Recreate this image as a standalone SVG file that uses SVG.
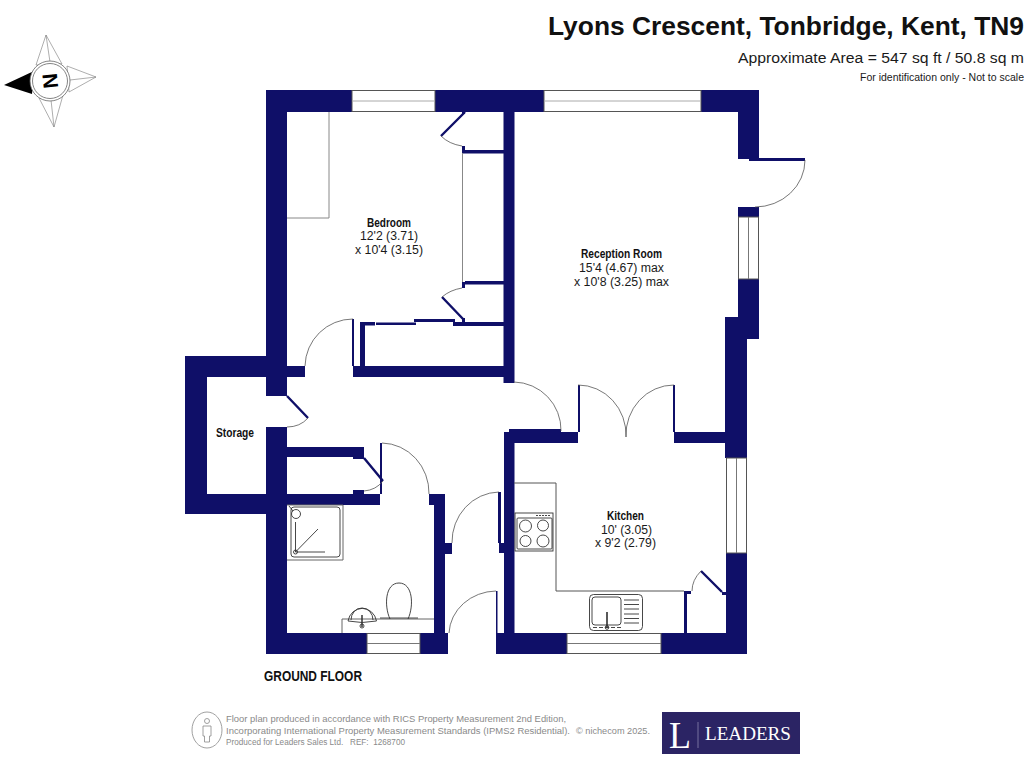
<svg xmlns="http://www.w3.org/2000/svg" width="1024" height="768" viewBox="0 0 1024 768">
<style>
text{font-family:"Liberation Sans",Arial,sans-serif;fill:#1a1a1a}
.b{font-weight:700;fill:#111}
.w{fill:#0f0f68}
.t{font-size:12.5px}
.r{font-size:12px;font-weight:700;fill:#111}
.arc{fill:none;stroke:#555;stroke-width:.8}
.ln{fill:none;stroke:#666;stroke-width:1}
.fx{fill:none;stroke:#333;stroke-width:.9}
.win{fill:#fff;stroke:#555;stroke-width:1}
.wm{stroke:#aaa;stroke-width:1;fill:none}
.leaf{stroke:#0f0f68;stroke-width:2.4;fill:none}
.foot{font-size:9.600px;fill:#8a8a8a;white-space:pre}
.st{fill:#fff;stroke:#777;stroke-width:.6}
</style>
<rect width="1024" height="768" fill="#fff"/>
<g id="header">
<text x="548" y="35" class="b" font-size="25" textLength="476" lengthAdjust="spacingAndGlyphs">Lyons Crescent, Tonbridge, Kent, TN9</text>
<text x="738" y="63" font-size="15.500" textLength="286" lengthAdjust="spacingAndGlyphs">Approximate Area = 547 sq ft / 50.8 sq m</text>
<text x="860" y="81" font-size="10.500" textLength="164" lengthAdjust="spacingAndGlyphs">For identification only - Not to scale</text>
</g>
<g id="compass">
<path class="st" d="M46 35L36 65L62 64ZM96 77L67 66L69 92ZM54 127L39 98L63 95Z"/>
<path class="st" d="M46 35L50 62M96 77L70 80M54 127L51 100"/>
<path fill="#000" d="M4 85L34 71L32 94Z"/>
<circle cx="50" cy="81" r="20" fill="#fff" stroke="#666" stroke-width=".8"/>
<circle cx="50" cy="81" r="17.500" fill="#fff" stroke="#666" stroke-width=".8"/>
<text x="50" y="81" class="b" font-size="21" text-anchor="middle" transform="rotate(-96 50 81) translate(0 7.5)" style="fill:#000">N</text>
</g>
<g id="walls">
<rect class="w" x="266" y="90" width="86" height="22"/>
<rect class="w" x="435" y="90" width="109" height="22"/>
<rect class="w" x="701" y="90" width="58" height="22"/>
<rect class="w" x="266" y="90" width="21" height="306"/>
<rect class="w" x="266" y="427" width="21" height="227"/>
<rect class="w" x="185" y="356" width="81" height="21"/>
<rect class="w" x="185" y="356" width="22" height="158"/>
<rect class="w" x="185" y="494" width="102" height="20"/>
<rect class="w" x="287" y="366" width="18" height="11"/>
<rect class="w" x="503.500" y="112" width="11" height="271"/>
<rect class="w" x="738" y="90" width="21" height="69"/>
<rect class="w" x="738" y="207" width="21" height="10"/>
<rect class="w" x="738" y="279" width="21" height="60"/>
<rect class="w" x="725" y="317" width="22" height="141"/>
<rect class="w" x="726" y="553" width="21" height="101"/>
<rect class="w" x="496" y="633" width="71" height="21"/>
<rect class="w" x="661" y="633" width="86" height="21"/>
<rect class="w" x="266" y="633" width="101" height="21"/>
<rect class="w" x="420" y="633" width="28" height="21"/>
<rect class="w" x="504" y="432" width="10.500" height="201"/>
<rect class="w" x="504" y="432" width="74" height="11"/>
<rect class="w" x="674" y="432" width="52" height="11"/>
<rect class="w" x="509" y="429" width="52" height="4"/>
<rect class="w" x="353" y="366" width="151" height="11"/>
<rect class="w" x="360" y="322" width="5" height="44"/>
<rect class="w" x="360" y="322" width="15" height="3.500"/>
<rect class="w" x="376" y="322.500" width="40" height="2.500"/>
<rect class="w" x="414" y="319" width="41" height="3"/>
<rect class="w" x="453" y="322" width="51" height="4"/>
<rect class="w" x="462" y="318" width="3" height="5"/>
<rect class="w" x="465" y="281" width="39" height="3.500"/>
<rect class="w" x="462" y="282" width="3" height="6"/>
<rect class="w" x="462" y="150" width="42" height="3.500"/>
<rect class="w" x="462" y="146" width="3" height="7"/>
<rect class="w" x="462" y="110" width="3" height="4"/>
<rect class="w" x="287" y="447" width="77" height="10"/>
<rect class="w" x="353" y="457" width="11" height="2"/>
<rect class="w" x="287" y="494" width="93" height="11"/>
<rect class="w" x="353" y="490" width="11" height="4"/>
<rect class="w" x="380" y="443" width="2" height="51"/>
<rect class="w" x="429" y="494" width="16" height="11"/>
<rect class="w" x="434" y="494" width="11" height="139"/>
<rect class="w" x="445" y="543" width="7" height="11"/>
<rect class="w" x="498" y="492" width="3" height="51"/>
<rect class="w" x="499" y="543" width="5" height="10"/>
<rect class="w" x="496" y="591" width="1.500" height="42"/>
<rect class="w" x="352" y="319" width="2" height="47"/>
<rect class="w" x="578" y="385" width="2" height="47"/>
<rect class="w" x="673" y="385" width="2" height="47"/>
<rect class="w" x="749" y="158" width="56" height="3"/>
<rect class="w" x="684" y="591" width="7" height="3"/>
<rect class="w" x="684" y="591" width="3" height="42"/>
<rect class="w" x="722" y="592" width="4" height="3"/>
</g>
<g id="windows">
<rect class="win" x="352" y="90.500" width="83" height="21"/><path class="wm" d="M352 101H435"/>
<rect class="win" x="544" y="90.500" width="157" height="21"/><path class="wm" d="M544 101H701"/>
<rect class="win" x="738.500" y="217" width="20" height="62"/><path class="wm" d="M748.500 217V279" style="stroke:#777"/>
<rect class="win" x="726.500" y="458" width="20" height="95"/><path class="wm" d="M736.500 458V553" style="stroke:#777"/>
<rect class="win" x="367" y="633.500" width="53" height="20"/><path class="wm" d="M367 643.500H420" style="stroke:#777"/>
<rect class="win" x="567" y="633.500" width="94" height="20"/><path class="wm" d="M567 643.500H661" style="stroke:#777"/>
</g>
<g id="doors">
<path class="leaf" d="M465 112L441 136M442 297L464 320M287 396L308 418M364 458L383 481M701 571L722 592"/>
<path class="arc" d="M441 136Q449 144 462 146M442 297Q450 290 462 288M353 319A48 48 0 0 0 305 366M308 418Q300 427 287 427M364 491Q376 490 383 481M382 443A48 50 0 0 1 429 494M452 543A48 50 0 0 1 499 492M496 591A48 44 0 0 0 449 633M514 382A48 48 0 0 1 561 431M578 385A48 50 0 0 1 626 437M674 385A48 50 0 0 0 626 437M805 160A50 47 0 0 1 755 207M701 571Q692 580 692 591"/>
</g>
<g id="fixtures">
<path class="ln" style="stroke:#888" d="M287 218H329V112M462.500 153V282"/>
<path class="ln" d="M287 505H343V560H287"/>
<rect class="fx" x="291" y="507" width="49" height="50" rx="3"/>
<circle class="fx" cx="296" cy="514" r="4.500"/>
<path class="fx" d="M289 506L293 511M295.500 522V552M295.500 552L318 529M295.500 552H325"/>
<circle class="fx" cx="295.500" cy="552" r="2"/>
<path class="ln" d="M342 633V619H434"/>
<path class="fx" d="M348 621A14.500 15.500 0 0 1 376.500 621Q362 624 348 621M351 620A11 12 0 0 1 373 620"/>
<path class="leaf" style="stroke:#333;stroke-width:1.500" d="M362 615V627"/>
<circle class="fx" cx="362" cy="626" r="2"/>
<path class="fx" d="M390 619C384 606 385 583 399 583C413 583 414 606 408 619M380 618H418"/>
<path class="ln" style="stroke:#555" d="M514 483H556V591H684"/>
<rect class="fx" x="515" y="513" width="38" height="38"/>
<rect class="fx" x="517" y="518" width="35" height="31" rx="1"/>
<circle class="fx" cx="525.500" cy="526" r="6"/>
<circle class="fx" cx="543" cy="525.500" r="5.500"/>
<circle class="fx" cx="525.500" cy="541" r="5.500"/>
<circle class="fx" cx="543" cy="541" r="6"/>
<path class="fx" stroke-dasharray="2 1" d="M536 515.500H550"/>
<rect class="fx" x="589.500" y="594.500" width="53" height="36" rx="4"/>
<rect class="fx" x="592" y="597" width="29" height="28" rx="3"/>
<path class="fx" d="M624 600H639M624 604.500H639M624 609H639M624 614H639M624 618.500H639M624 623H639"/>
<path class="leaf" style="stroke:#222;stroke-width:1.500" d="M607 612V628"/>
<circle class="fx" cx="607" cy="627.500" r="1.800"/>
<path class="fx" stroke-width="1.500" stroke-dasharray="4 2" d="M593 627.500H622"/>
</g>
<g id="labels">
<text x="367" y="227" class="r" textLength="44" lengthAdjust="spacingAndGlyphs">Bedroom</text>
<text x="360" y="240" class="t" textLength="58" lengthAdjust="spacingAndGlyphs">12'2 (3.71)</text>
<text x="355" y="254" class="t" textLength="68" lengthAdjust="spacingAndGlyphs">x 10'4 (3.15)</text>
<text x="581" y="258" class="r" textLength="81" lengthAdjust="spacingAndGlyphs">Reception Room</text>
<text x="579" y="272" class="t" textLength="85" lengthAdjust="spacingAndGlyphs">15'4 (4.67) max</text>
<text x="574" y="286" class="t" textLength="95" lengthAdjust="spacingAndGlyphs">x 10'8 (3.25) max</text>
<text x="607" y="520" class="r" textLength="37" lengthAdjust="spacingAndGlyphs">Kitchen</text>
<text x="601" y="534" class="t" textLength="51" lengthAdjust="spacingAndGlyphs">10' (3.05)</text>
<text x="595" y="547" class="t" textLength="61" lengthAdjust="spacingAndGlyphs">x 9'2 (2.79)</text>
<text x="216" y="437" class="r" textLength="38" lengthAdjust="spacingAndGlyphs">Storage</text>
<text x="264" y="681" class="b" font-size="14.500" textLength="98" lengthAdjust="spacingAndGlyphs">GROUND FLOOR</text>
</g>
<g id="footer">
<ellipse cx="207" cy="730" rx="15" ry="18" fill="none" stroke="#888" stroke-width=".8"/>
<circle cx="207" cy="721" r="2.500" fill="none" stroke="#888" stroke-width=".8"/>
<path d="M203 726H211V736H209.500V742H204.500V736H203Z" fill="none" stroke="#888" stroke-width=".8"/>
<text x="226" y="722" class="foot" textLength="340" lengthAdjust="spacingAndGlyphs">Floor plan produced in accordance with RICS Property Measurement 2nd Edition,</text>
<text x="226" y="734" class="foot" textLength="344" lengthAdjust="spacingAndGlyphs">Incorporating International Property Measurement Standards (IPMS2 Residential).</text>
<text x="226" y="745" class="foot" textLength="179" lengthAdjust="spacingAndGlyphs">Produced for Leaders Sales Ltd.   REF:  1268700</text>
<text x="576" y="734" class="foot" textLength="74" lengthAdjust="spacingAndGlyphs">© nichecom 2025.</text>
<rect x="662" y="712" width="138" height="42" fill="#2b2464"/>
<path d="M698 722V748" stroke="#a9a6c6" stroke-width=".6"/>
<text x="669" y="748" font-size="37" textLength="22" lengthAdjust="spacingAndGlyphs" style="font-family:'Liberation Serif',serif;fill:#fff">L</text>
<text x="705" y="740" font-size="18.500" textLength="86" lengthAdjust="spacingAndGlyphs" style="font-family:'Liberation Serif',serif;fill:#fff">LEADERS</text>
</g>
</svg>
